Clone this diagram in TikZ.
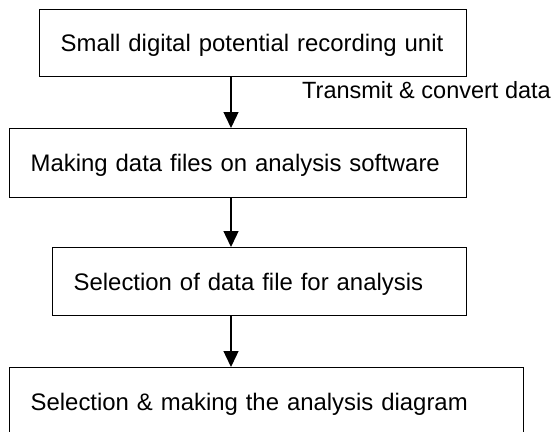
\documentclass[tikz,border=0pt]{standalone}
\usepackage{fontspec}
\setmainfont{Liberation Sans}
\usetikzlibrary{arrows.meta}

\begin{document}
\begin{tikzpicture}[
  x=1pt, y=-1pt,
  stepbox/.style={draw, line width=1.4pt, anchor=north west, inner xsep=21pt,
    inner ysep=0pt, align=left, text height=17pt, text depth=0pt,
    font=\fontsize{23.9}{26}\selectfont},
  lbl/.style={font=\fontsize{23.5}{26}\selectfont, inner sep=0pt},
  flow/.style={line width=1.4pt, -{Triangle[width=15pt,length=16pt]}},
]
\useasboundingbox (0,0) rectangle (556,431);
\def\ax{231}

% ----- boxes -----
\node[stepbox, text width=385pt, minimum height=67pt] (unit) at (39,9)
  {Small digital potential recording unit};
\node[stepbox, text width=415pt, minimum height=69pt] (files) at (9,128)
  {Making data files on analysis software};
\node[stepbox, text width=372pt, minimum height=68pt] (select) at (52,247)
  {Selection of data file for analysis};
% bottom edge runs off the page
\node[stepbox, text width=472pt, minimum height=69pt] (diagram) at (9,367)
  {Selection \& making the analysis diagram};

% ----- arrows -----
\coordinate (axis) at (\ax,0);
\draw[flow] (unit.south -| axis) -- (files.north -| axis);
\draw[flow] (files.south -| axis) -- (select.north -| axis);
\draw[flow] (select.south -| axis) -- (diagram.north -| axis);

\node[lbl, anchor=base west] (convert) at (302,98) {Transmit \& convert data};

\end{tikzpicture}
\end{document}
